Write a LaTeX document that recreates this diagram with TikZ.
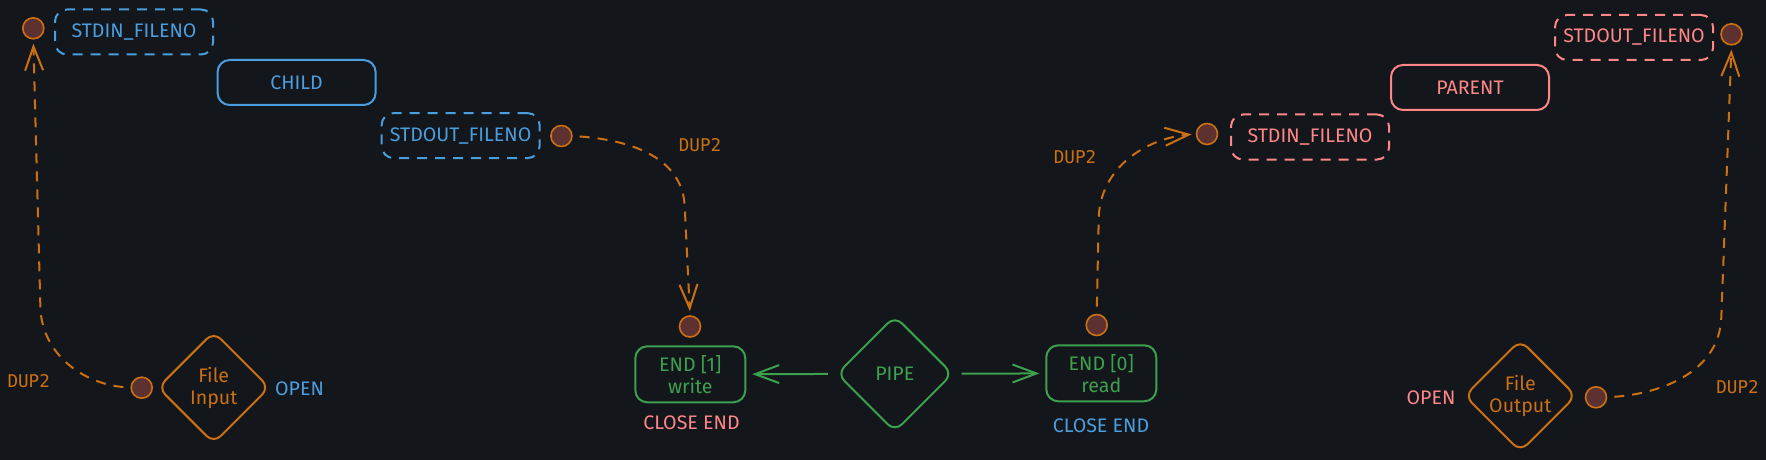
\documentclass[tikz,border=0pt]{standalone}
\usepackage{fontspec}
\setmainfont{Fira Sans}
\newfontfamily\codefont{DejaVu Sans Mono}
\usetikzlibrary{shapes.geometric,arrows.meta}

\definecolor{bgc}{HTML}{13161B}
\definecolor{childBlue}{HTML}{4A9EDE}
\definecolor{parentRed}{HTML}{FF8787}
\definecolor{dupOrange}{HTML}{CC7014}
\definecolor{pipeGreen}{HTML}{3DA04E}
\definecolor{fdFill}{HTML}{5E3131}

\begin{document}
\begin{tikzpicture}[
        x=0.5pt, y=-0.5pt,
        every node/.style={font=\fontsize{9.8}{11}\selectfont},
        box/.style={rectangle, draw=#1, text=#1, line width=1pt, rounded corners=6pt, minimum width=79pt, minimum height=22.5pt, align=center},
        fdbox/.style={box=#1, dash pattern=on 5pt off 4pt},
        endbox/.style={box=pipeGreen, minimum width=55pt, minimum height=28pt},
        gem/.style={diamond, draw=#1, text=#1, line width=1pt, rounded corners=5pt, minimum width=56pt, minimum height=56pt, inner sep=0pt, align=center},
        fd/.style={circle, draw=dupOrange, fill=fdFill, line width=0.8pt, minimum size=10.5pt, inner sep=0pt},
        dup/.style={->, draw=dupOrange, line width=1pt, dash pattern=on 5pt off 4pt, shorten <=3.5pt, shorten >=2pt},
        flow/.style={->, draw=pipeGreen, line width=1pt, shorten <=4pt, shorten >=3pt},
        >={Straight Barb[length=12pt,width=9pt]},
        lbl/.style={text=#1},
        dupText/.style={text=dupOrange, font=\codefont\fontsize{8.8}{10}\selectfont}
        ]

        \fill[bgc] (0,0) rectangle (1766,460);

        % child side
        \node[fd] (sinC) at (33.3,28.3) {};
        \node[fdbox=childBlue] (sinB) at (134,32) {STDIN\_FILENO};
        \node[box=childBlue] (child) at (296.6,82.5) {CHILD};
        \node[fdbox=childBlue] (soutB) at (460.6,135.6) {STDOUT\_FILENO};
        \node[fd] (soutC) at (561.4,136) {};

        \node[fd] (fin) at (141.7,387.7) {};
        \node[gem=dupOrange] (finD) at (213.7,387.5) {File\\Input};
        \node[lbl=childBlue] (openL) at (299.5,389) {OPEN};
        \node[dupText] (dupA) at (28.7,381) {DUP2};
        \node[dupText] (dupB) at (700,145) {DUP2};

        % pipe
        \node[fd] (wC) at (690,326.5) {};
        \node[endbox] (wEnd) at (690.3,374.3) {END [1]\\write};
        \node[lbl=parentRed] (closeW) at (691.5,423) {CLOSE END};
        \node[gem=pipeGreen, minimum width=58pt, minimum height=58pt] (pipe) at (894.8,373.8) {PIPE};
        \node[endbox] (rEnd) at (1101.3,373.3) {END [0]\\read};
        \node[fd] (rC) at (1096.7,325) {};
        \node[lbl=childBlue] (closeR) at (1101,426) {CLOSE END};

        % parent side
        \node[dupText] (dupC) at (1075,156.7) {DUP2};
        \node[fd] (pinC) at (1207,134) {};
        \node[fdbox=parentRed] (pinB) at (1310,137) {STDIN\_FILENO};
        \node[box=parentRed] (parent) at (1470,87.5) {PARENT};
        \node[fdbox=parentRed] (poutB) at (1634,37.5) {STDOUT\_FILENO};
        \node[fd] (poutC) at (1731.5,34.3) {};

        \node[lbl=parentRed] (openR) at (1431,397.3) {OPEN};
        \node[gem=dupOrange] (foutD) at (1520.3,395.8) {File\\Output};
        \node[fd] (fout) at (1596,397.3) {};
        \node[dupText] (dupD) at (1737.5,386.7) {DUP2};

        % pipe ends
        \draw[flow] (pipe) -- (wEnd);
        \draw[flow] (pipe) -- (rEnd);

        % dup2 redirections
        \draw[dup] (fin.west) to[out=175, in=-88] ++(-90,-80) -- (sinC.south);
        \draw[dup] (soutC.east) to[out=-4, in=93] ++(112,70) -- (wC.north);
        \draw[dup] (rC.north) -- ++(2,-95) to[out=89, in=185] (pinC.west);
        \draw[dup] (fout.east) to[out=4, in=-92] ++(114,-80) -- (poutC.south);

    \end{tikzpicture}
\end{document}
